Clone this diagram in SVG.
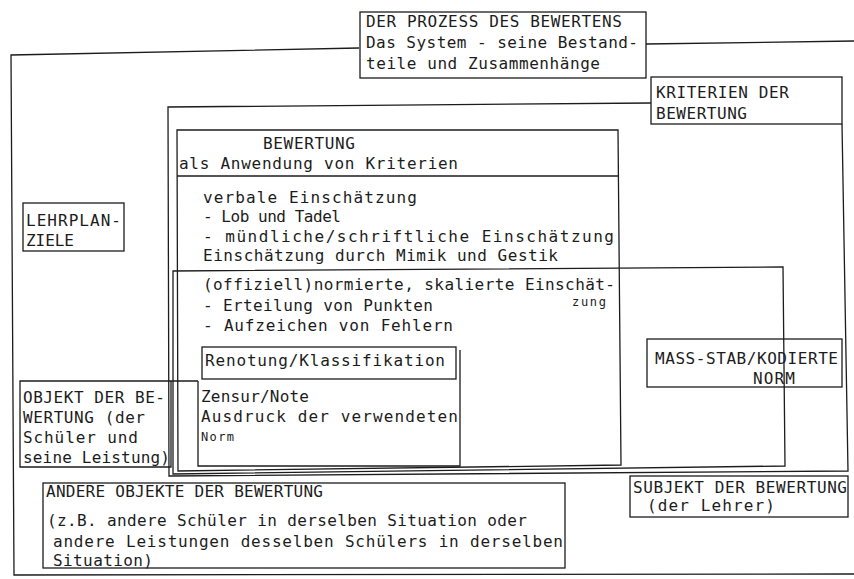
<svg xmlns="http://www.w3.org/2000/svg" width="854" height="579" viewBox="0 0 854 579">
<style>
.b{fill:none;stroke:#1c1c1c;stroke-width:1.3}
.t{font-family:"DejaVu Sans Mono","Liberation Mono",monospace;font-size:16px;fill:#1c1c1c}
.s{font-size:12px}
</style>
<rect x="0" y="0" width="854" height="579" fill="#ffffff"/>
<g id="frame-outer">
<path class="b" d="M359,48 L11,55 L14,575 L854,574"/>
</g>
<g id="connectors">
<path class="b" d="M646,44 L854,41"/>
</g>
<g id="title">
<rect class="b" x="360" y="12" width="286" height="66"/>
<text class="t" x="366" y="27" textLength="256" lengthAdjust="spacing">DER PROZESS DES BEWERTENS</text>
<text class="t" x="366" y="48" textLength="272" lengthAdjust="spacing">Das System - seine Bestand-</text>
<text class="t" x="366" y="69" textLength="234" lengthAdjust="spacing">teile und Zusammenhänge</text>
</g>
<g id="kriterien">
<path class="b" d="M651,103 L168,107 L169,476 L848,471 L842,124"/>
<rect class="b" x="651" y="77" width="191" height="47"/>
<text class="t" x="656" y="98" textLength="133" lengthAdjust="spacing">KRITERIEN DER</text>
<text class="t" x="656" y="119" textLength="91" lengthAdjust="spacing">BEWERTUNG</text>
</g>
<g id="lehrplan">
<rect class="b" x="23" y="203" width="101" height="48"/>
<text class="t" x="26" y="226" textLength="95" lengthAdjust="spacing">LEHRPLAN-</text>
<text class="t" x="26" y="246" textLength="48" lengthAdjust="spacing">ZIELE</text>
</g>
<g id="bewertung">
<path class="b" d="M177,130 L618,130 L621,465 L178,471 Z"/>
<line class="b" x1="177" y1="176" x2="619" y2="176"/>
<text class="t" x="263" y="149" textLength="92" lengthAdjust="spacing">BEWERTUNG</text>
<text class="t" x="179" y="169" textLength="279" lengthAdjust="spacing">als Anwendung von Kriterien</text>
<text class="t" x="203" y="203" textLength="214" lengthAdjust="spacing">verbale Einschätzung</text>
<text class="t" x="203" y="222" textLength="138" lengthAdjust="spacing">- Lob und Tadel</text>
<text class="t" x="203" y="242" textLength="411" lengthAdjust="spacing">- mündliche/schriftliche Einschätzung</text>
<text class="t" x="203" y="261" textLength="355" lengthAdjust="spacing">Einschätzung durch Mimik und Gestik</text>
</g>
<g id="normiert">
<path class="b" d="M173,271 L783,267 L785,466 L173,474 Z"/>
<text class="t" x="203" y="290" textLength="412" lengthAdjust="spacing">(offiziell)normierte, skalierte Einschät-</text>
<text class="t s" x="572" y="306" textLength="34" lengthAdjust="spacing">zung</text>
<text class="t" x="203" y="311" textLength="230" lengthAdjust="spacing">- Erteilung von Punkten</text>
<text class="t" x="203" y="331" textLength="250" lengthAdjust="spacing">- Aufzeichen von Fehlern</text>
</g>
<g id="benotung">
<rect class="b" x="202" y="347" width="254" height="32"/>
<text class="t" x="205" y="366" textLength="240" lengthAdjust="spacing">Renotung/Klassifikation</text>
</g>
<g id="zensur">
<path class="b" d="M198,381 L198,466 L460,466 L460,350"/>
<text class="t" x="201" y="402" textLength="108" lengthAdjust="spacing">Zensur/Note</text>
<text class="t" x="201" y="422" textLength="257" lengthAdjust="spacing">Ausdruck der verwendeten</text>
<text class="t s" x="201" y="441" textLength="33" lengthAdjust="spacing">Norm</text>
</g>
<g id="objekt">
<path class="b" d="M198,381 L20,381 L20,467 L171,467 L171,381"/>
<text class="t" x="23" y="403" textLength="142" lengthAdjust="spacing">OBJEKT DER BE-</text>
<text class="t" x="23" y="423" textLength="122" lengthAdjust="spacing">WERTUNG (der</text>
<text class="t" x="23" y="443" textLength="115" lengthAdjust="spacing">Schüler und</text>
<text class="t" x="23" y="463" textLength="147" lengthAdjust="spacing">seine Leistung)</text>
</g>
<g id="massstab">
<rect class="b" x="647" y="339" width="195" height="48"/>
<text class="t" x="655" y="364" textLength="183" lengthAdjust="spacing">MASS-STAB/KODIERTE</text>
<text class="t" x="753" y="384" textLength="42" lengthAdjust="spacing">NORM</text>
</g>
<g id="subjekt">
<rect class="b" x="630" y="476" width="218" height="41"/>
<text class="t" x="633" y="493" textLength="214" lengthAdjust="spacing">SUBJEKT DER BEWERTUNG</text>
<text class="t" x="647" y="511" textLength="128" lengthAdjust="spacing">(der Lehrer)</text>
</g>
<g id="andere">
<rect class="b" x="43" y="483" width="522" height="85"/>
<text class="t" x="46" y="497" textLength="277" lengthAdjust="spacing">ANDERE OBJEKTE DER BEWERTUNG</text>
<text class="t" x="47" y="526" textLength="480" lengthAdjust="spacing">(z.B. andere Schüler in derselben Situation oder</text>
<text class="t" x="53" y="547" textLength="510" lengthAdjust="spacing">andere Leistungen desselben Schülers in derselben</text>
<text class="t" x="53" y="566" textLength="100" lengthAdjust="spacing">Situation)</text>
</g>
</svg>
